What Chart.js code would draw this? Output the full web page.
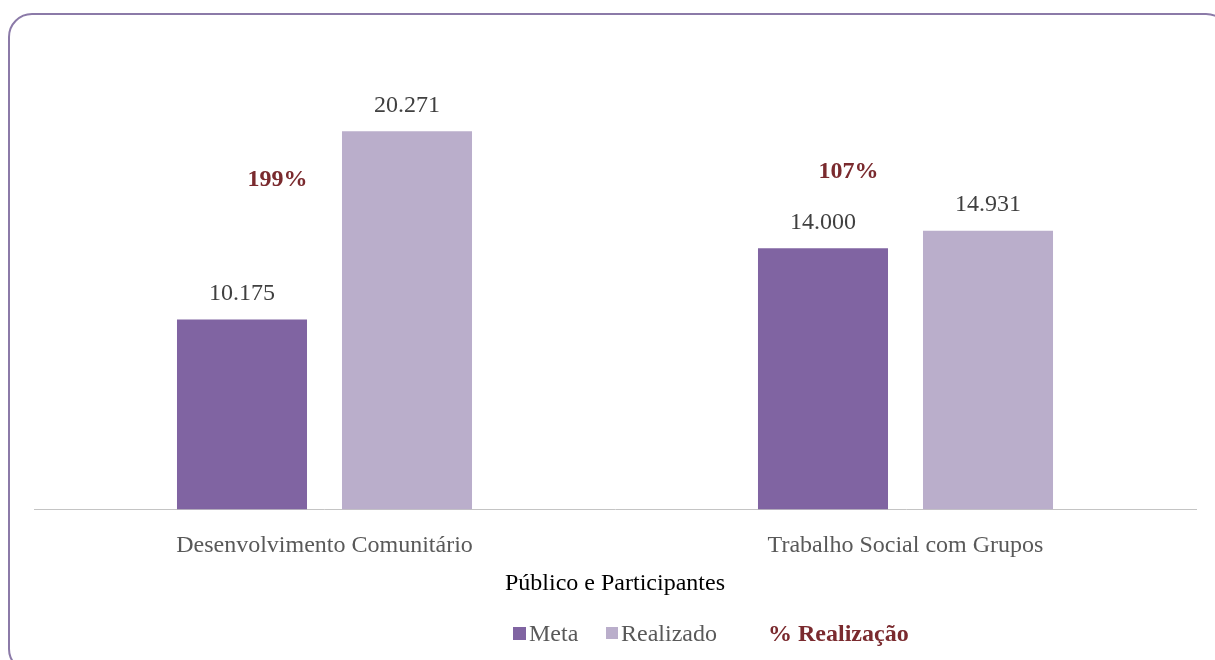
<!DOCTYPE html>
<html lang="pt-BR">
<head>
    <meta charset="UTF-8">
    <title>Público e Participantes</title>
    <script src="https://cdn.jsdelivr.net/npm/chart.js"></script>
    <style>
        html, body {
            margin: 0;
            padding: 0;
            width: 1215px;
            height: 660px;
            overflow: hidden;
            background: #ffffff;
        }
        .frame {
            position: absolute;
            left: 8px;
            top: 13px;
            width: 1222px;
            height: 660px;
            border: 2px solid #8b7aa8;
            border-radius: 24px;
            box-sizing: border-box;
        }
        .wrap {
            position: absolute;
            left: 0;
            top: 0;
            width: 1215px;
            height: 660px;
        }
    </style>
</head>
<body>
    <div class="frame"></div>
    <div class="wrap"><canvas id="chart" width="1215" height="660"></canvas></div>

    <script>
        // dados
        const categorias = ['Desenvolvimento Comunitário', 'Trabalho Social com Grupos'];
        const meta = [10175, 14000];
        const realizado = [20271, 14931];
        const realizacao = ['199%', '107%'];

        const corMeta = '#8064a2';
        const corRealizado = '#baaecb';
        const corPct = '#7a2a2e';
        const serif = "'Liberation Serif', 'Times New Roman', serif";

        function fmt(v) {
            return String(v).replace(/\B(?=(\d{3})+(?!\d))/g, '.');
        }

        // rótulos de valor e de % realização
        const rotulos = {
            id: 'rotulos',
            afterDatasetsDraw(chart) {
                const ctx = chart.ctx;
                ctx.save();
                ctx.textAlign = 'center';
                ctx.textBaseline = 'middle';
                ctx.font = '24px ' + serif;
                ctx.fillStyle = '#404040';
                chart.data.datasets.forEach((ds, i) => {
                    chart.getDatasetMeta(i).data.forEach((bar, j) => {
                        ctx.fillText(fmt(ds.data[j]), bar.x, bar.y - 26);
                    });
                });
                // % realização, acima do par de barras
                const x = chart.scales.x;
                const dx = [-47, -57];
                const dy = [180, 172];
                ctx.font = 'bold 24px ' + serif;
                ctx.fillStyle = corPct;
                realizacao.forEach((t, j) => {
                    ctx.fillText(t, x.getPixelForValue(j) + dx[j], dy[j]);
                });
                ctx.restore();
            }
        };

        // legenda desenhada à mão (o item % tem outra fonte)
        const legenda = {
            id: 'legenda',
            afterDraw(chart) {
                const ctx = chart.ctx;
                const y = 634;
                ctx.save();
                ctx.textBaseline = 'middle';
                ctx.textAlign = 'left';
                ctx.font = '24px ' + serif;
                ctx.fillStyle = corMeta;
                ctx.fillRect(513, y - 7, 13, 13);
                ctx.fillStyle = '#595959';
                ctx.fillText('Meta', 529, y + 1);
                ctx.fillStyle = corRealizado;
                ctx.fillRect(606, y - 7, 12, 12);
                ctx.fillStyle = '#595959';
                ctx.fillText('Realizado', 621, y + 1);
                ctx.font = 'bold 24px ' + serif;
                ctx.fillStyle = corPct;
                ctx.fillText('% Realização', 768, y + 1);
                ctx.restore();
            }
        };

        new Chart(document.getElementById('chart'), {
            type: 'bar',
            data: {
                labels: categorias,
                datasets: [
                    {
                        label: 'Meta',
                        data: meta,
                        backgroundColor: corMeta,
                        categoryPercentage: 0.568,
                        barPercentage: 0.788
                    },
                    {
                        label: 'Realizado',
                        data: realizado,
                        backgroundColor: corRealizado,
                        categoryPercentage: 0.568,
                        barPercentage: 0.788
                    }
                ]
            },
            options: {
                responsive: false,
                animation: false,
                layout: {
                    padding: { left: 34, right: 19, top: 43, bottom: 0 }
                },
                plugins: {
                    legend: { display: false },
                    tooltip: { enabled: false }
                },
                scales: {
                    y: {
                        display: false,
                        beginAtZero: true,
                        max: 25000
                    },
                    x: {
                        grid: { display: false, drawTicks: false },
                        border: { display: true, color: '#c4c4c4', width: 1, dash: [2, 2] },
                        ticks: {
                            color: '#595959',
                            font: { family: serif, size: 24 },
                            padding: 22
                        },
                        title: {
                            display: true,
                            text: 'Público e Participantes',
                            color: '#000000',
                            font: { family: serif, size: 24 },
                            padding: { top: -13, bottom: 62 }
                        }
                    }
                }
            },
            plugins: [rotulos, legenda]
        });
    </script>
</body>
</html>
